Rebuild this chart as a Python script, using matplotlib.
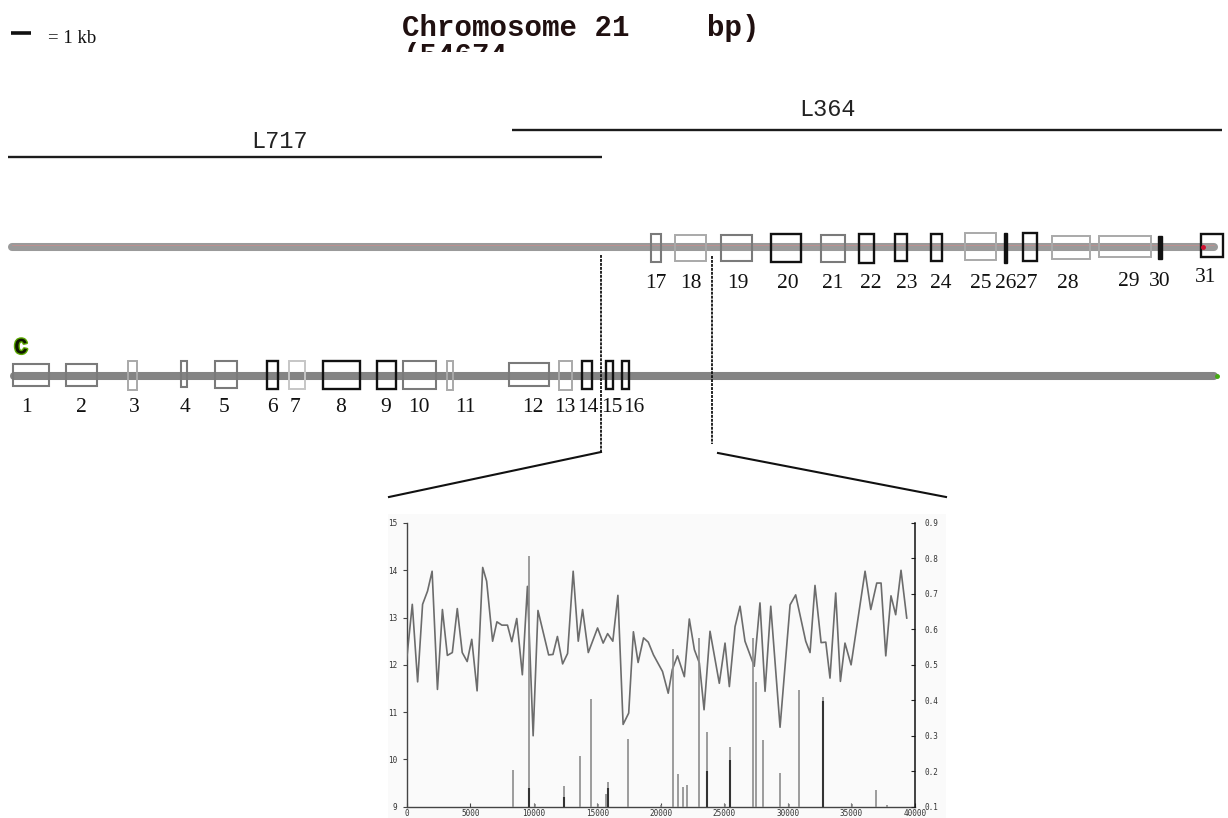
import matplotlib
matplotlib.use("Agg")
import matplotlib.pyplot as plt
from matplotlib.patches import Rectangle
import matplotlib.patheffects as pe
from matplotlib.ticker import FixedLocator, FixedFormatter

# ---------------------------------------------------------------- data
# exons along the locus, kb from the first exon's upstream end
exon_numbers = list(range(1, 32))
exon_start_kb = [0.25, 2.90, 6.00, 8.65, 10.35, 12.95, 14.05, 15.75, 18.45, 19.75,
                 21.95, 25.05, 27.55, 28.70, 29.90, 30.70,
                 32.15, 33.35, 35.65, 38.15, 40.65, 42.55, 44.35, 46.15, 47.85,
                 49.80, 50.75, 52.20, 54.55, 57.50, 59.65]
exon_end_kb = [2.05, 4.45, 6.45, 8.95, 11.45, 13.50, 14.85, 17.60, 19.40, 21.40,
               22.25, 27.05, 28.20, 29.20, 30.25, 31.05,
               32.65, 34.90, 37.20, 39.65, 41.85, 43.30, 44.95, 46.70, 49.40,
               49.95, 51.45, 54.10, 57.15, 57.70, 60.75]
locus_length_kb = 60.5

# genomic clones
clone_names = ["L717", "L364"]
clone_start_kb = [0.0, 25.2]
clone_end_kb = [29.7, 60.7]

# window expanded in the profile below
window_kb = [29.65, 35.2]

# profile (left axis)
profile_pos = [0, 440, 860, 1250, 1640, 2000, 2420, 2810, 3200, 3590, 3980, 4370,
               4760, 5120, 5540, 5980, 6290, 6760, 7100, 7490, 7930, 8270, 8660,
               9100, 9500, 9950, 10330, 11170, 11510, 11860, 12270, 12660, 13100,
               13500, 13840, 14290, 15020, 15460, 15810, 16220, 16620, 17030,
               17470, 17840, 18210, 18640, 19010, 19420, 20130, 20580, 20900,
               21310, 21850, 22240, 22640, 23030, 23400, 23870, 24600, 25050,
               25390, 25840, 26230, 26620, 27350, 27800, 28200, 28650, 29380,
               30170, 30610, 31400, 31740, 32130, 32610, 32980, 33310, 33760,
               34130, 34490, 34970, 36070, 36520, 36990, 37330, 37700, 38110,
               38480, 38900, 39350]
profile_val = [12.12, 13.28, 11.64, 13.28, 13.56, 13.98, 11.48, 13.17, 12.20, 12.26,
               13.19, 12.26, 12.07, 12.54, 11.45, 14.06, 13.77, 12.50, 12.91, 12.84,
               12.84, 12.49, 12.98, 11.79, 13.66, 10.50, 13.15, 12.21, 12.22, 12.60,
               12.02, 12.24, 13.98, 12.50, 13.17, 12.26, 12.78, 12.46, 12.66, 12.50,
               13.47, 10.74, 10.98, 12.70, 12.05, 12.57, 12.48, 12.21, 11.86, 11.40,
               11.90, 12.19, 11.75, 12.97, 12.32, 12.04, 11.05, 12.71, 11.61, 12.46,
               11.54, 12.81, 13.24, 12.50, 11.97, 13.31, 11.44, 13.24, 10.68, 13.27,
               13.48, 12.50, 12.26, 13.68, 12.47, 12.48, 11.72, 13.52, 11.65, 12.46,
               12.00, 13.98, 13.17, 13.73, 13.73, 12.19, 13.46, 13.06, 14.00, 12.99]

# site scores (right axis)
site_pos = [8390, 9626, 10073, 12380, 13640, 14480, 15030, 15685, 15842, 17440,
            20015, 20980, 21350, 21750, 22020, 23028, 23658, 25050, 25410, 27277,
            27489, 28017, 29379, 30087, 30898, 32740, 35023, 36935, 37824]
site_val = [0.203, 0.807, 0.107, 0.159, 0.243, 0.403, 0.107, 0.136, 0.171, 0.291,
            0.104, 0.544, 0.192, 0.156, 0.160, 0.576, 0.312, 0.108, 0.268, 0.577,
            0.453, 0.287, 0.196, 0.107, 0.429, 0.409, 0.107, 0.147, 0.104]
strong_pos = [9660, 12400, 15860, 23670, 25440, 32760]
strong_val = [0.153, 0.127, 0.153, 0.200, 0.233, 0.399]

x_ticks = [0, 5000, 10000, 15000, 20000, 25000, 30000, 35000, 40000]
left_ticks = [9, 10, 11, 12, 13, 14, 15]
right_ticks = [0.1, 0.2, 0.3, 0.4, 0.5, 0.6, 0.7, 0.8, 0.9]
right_tick_labels = ["0.1", "0.2", "0.3", "0.4", "0.5", "0.6", "0.7", "0.8", "0.9"]

# ---------------------------------------------------------------- styles
exon_tone = ["gray", "gray", "light", "gray", "gray", "black", "pale", "black",
             "black", "gray", "light", "gray", "light", "black", "black", "black",
             "gray", "light", "gray", "black", "gray", "black", "black", "black",
             "light", "solid", "black", "light", "light", "solid", "black"]
tone_style = {
    "black": dict(edgecolor="#111111", facecolor="none", linewidth=1.7),
    "gray": dict(edgecolor="#7a7a7a", facecolor="none", linewidth=1.5),
    "light": dict(edgecolor="#a9a9a9", facecolor="none", linewidth=1.4),
    "pale": dict(edgecolor="#c6c6c6", facecolor="none", linewidth=1.4),
    "solid": dict(edgecolor="#111111", facecolor="#111111", linewidth=1.0),
}
# vertical extent of each exon box (figure rows, top / bottom)
box_top = [364, 364, 361, 361, 361, 361, 361, 361, 361, 361, 361, 363, 361, 361, 361, 361,
           234, 235, 235, 234, 235, 234, 234, 234, 233, 233, 233, 236, 236, 236, 234]
box_bot = [386, 386, 390, 387, 388, 389, 389, 389, 389, 389, 390, 386, 390, 389, 389, 389,
           262, 261, 261, 262, 262, 263, 261, 261, 260, 263, 261, 259, 257, 259, 257]
# label centres (kb) and rows
label_kb = [0.9, 3.65, 6.3, 8.85, 10.8, 13.2, 14.35, 16.65, 18.9, 20.55, 22.85, 26.25,
            27.85, 29.0, 30.2, 31.3,
            32.4, 34.15, 36.5, 39.0, 41.25, 43.15, 44.95, 46.65, 48.65, 49.9, 50.95,
            53.0, 56.05, 57.6, 59.9]
label_row = [408] * 16 + [283] * 12 + [281, 281, 278]

W, H = 1228, 818
KB_PX, X0_PX = 20.0, 8.0
ROW_TOP, ROW_BOT = 247.0, 375.5


def kb(px):
    return (px - X0_PX) / KB_PX


fig = plt.figure(figsize=(W / 100, H / 100), dpi=100)
fig.patch.set_facecolor("white")
ax = fig.add_axes([0, 0, 1, 1])
ax.set_xlim(kb(0), kb(W))
ax.set_ylim(H, 0)
ax.axis("off")

serif = "Liberation Serif"
mono = "Liberation Mono"

# ---------------------------------------------------------------- header
ax.text(kb(402), 36, "Chromosome 21", fontfamily=mono, fontweight="bold",
        fontsize=21, color="#201010", va="baseline", ha="left")
ax.text(kb(707), 36, "bp)", fontfamily=mono, fontweight="bold",
        fontsize=21, color="#201010", va="baseline", ha="left")
ax.text(kb(402), 64, "(54674", fontfamily=mono, fontweight="bold",
        fontsize=21, color="#201010", va="baseline", ha="left", zorder=2)
ax.add_patch(Rectangle((kb(395), 52), kb(530) - kb(395), 30, facecolor="white",
                       edgecolor="none", zorder=3))

# scale bar: 1 kb
ax.plot([kb(11), kb(11) + 1.0], [33, 33], color="#111111", lw=2.6,
        solid_capstyle="butt")
ax.text(kb(48), 43, "= 1 kb", fontfamily=serif, fontsize=13.5, color="#111111",
        va="baseline", ha="left")

# ---------------------------------------------------------------- clones
clone_rows = [157, 130]
clone_label_px = [(280, 141), (828, 109)]
for name, s, e, row, (lx, ly) in zip(clone_names, clone_start_kb, clone_end_kb,
                                     clone_rows, clone_label_px):
    ax.plot([s, e], [row, row], color="#1c1c1c", lw=1.7, solid_capstyle="butt")
    ax.text(kb(lx), ly, name, fontfamily=mono, fontsize=17, color="#222222",
            ha="center", va="center")

# ---------------------------------------------------------------- tracks
ax.plot([0.2, locus_length_kb - 0.2], [ROW_TOP, ROW_TOP], color="#9a9a9a",
        lw=5.8, solid_capstyle="round", zorder=1)
ax.plot([0.2, locus_length_kb - 0.2], [ROW_TOP - 2.5, ROW_TOP - 2.5],
        color="#c98c8c", lw=0.5, zorder=1)
ax.plot([0.3, locus_length_kb - 0.2], [ROW_BOT, ROW_BOT], color="#848484",
        lw=5.8, solid_capstyle="round", zorder=1)
ax.plot([locus_length_kb - 0.05], [ROW_BOT], "o", color="#44aa11", ms=2.5, zorder=2)

for i, n in enumerate(exon_numbers):
    s, e = exon_start_kb[i], exon_end_kb[i]
    t, b = box_top[i], box_bot[i]
    ax.add_patch(Rectangle((s, t), e - s, b - t, zorder=3,
                           **tone_style[exon_tone[i]]))
    ax.text(label_kb[i], label_row[i], str(n), fontfamily=serif, fontsize=15.5,
            color="#111111", ha="center", va="center", zorder=4)

ax.plot([exon_start_kb[-1] + 0.1], [ROW_TOP], "o", color="#d01030", ms=2.5, zorder=4)

ax.text(kb(21), 348, "C", fontfamily=mono, fontweight="bold", fontsize=16,
        color="#101800", ha="center", va="center",
        path_effects=[pe.withStroke(linewidth=2, foreground="#5aa800")])

# ---------------------------------------------------------------- zoom window
ax.plot([window_kb[0], window_kb[0]], [255, 452], color="#111111", lw=1.3,
        linestyle=(0, (1.6, 0.6)))
ax.plot([window_kb[1], window_kb[1]], [256, 444], color="#111111", lw=1.3,
        linestyle=(0, (1.6, 0.6)))
ax.plot([window_kb[0], kb(389)], [452, 497], color="#111111", lw=1.5)
ax.plot([window_kb[1] + 0.3, kb(946)], [453, 497], color="#111111", lw=1.5)

# light backdrop of the profile panel
ax.add_patch(Rectangle((kb(388), 514), kb(946) - kb(388), H - 514,
                       facecolor="#fafafa", edgecolor="none", zorder=0))

# ---------------------------------------------------------------- profile panel
x0, x1, y0, y1 = 406.7, 915.0, 523.0, 806.7
ax2 = fig.add_axes([x0 / W, 1 - y1 / H, (x1 - x0) / W, (y1 - y0) / H])
ax2.patch.set_visible(False)
ax2.set_xlim(0, 40000)
ax2.set_ylim(9, 15)
ax3 = ax2.twinx()
ax3.set_ylim(0.1, 0.9)

ax2.plot(profile_pos, profile_val, color="#6c6c6c", lw=1.2, zorder=3)
ax3.vlines(site_pos, 0.1, site_val, color="#8c8c8c", lw=1.2)
ax3.vlines(strong_pos, 0.1, strong_val, color="#333333", lw=1.5)

for sp in ("top", "right"):
    ax2.spines[sp].set_visible(False)
for sp in ("top", "left", "bottom"):
    ax3.spines[sp].set_visible(False)
ax2.spines["left"].set_color("#444444")
ax2.spines["bottom"].set_color("#444444")
ax2.spines["left"].set_linewidth(1.0)
ax2.spines["bottom"].set_linewidth(1.0)
ax3.spines["right"].set_color("#111111")
ax3.spines["right"].set_linewidth(1.1)

tick_font = dict(family="DejaVu Sans Mono", size=5.5)
ax2.xaxis.set_major_locator(FixedLocator(x_ticks))
ax2.xaxis.set_major_formatter(FixedFormatter([str(v) for v in x_ticks]))
ax2.yaxis.set_major_locator(FixedLocator(left_ticks))
ax2.yaxis.set_major_formatter(FixedFormatter([str(v) for v in left_ticks]))
ax3.yaxis.set_major_locator(FixedLocator(right_ticks))
ax3.yaxis.set_major_formatter(FixedFormatter(right_tick_labels))

ax2.tick_params(axis="x", direction="in", length=3, width=0.8, color="#444444",
                pad=2, labelcolor="#333333")
ax2.tick_params(axis="y", direction="out", length=3, width=0.8, color="#444444",
                pad=4, labelcolor="#333333")
ax3.tick_params(axis="y", direction="in", length=3, width=0.8, color="#222222",
                pad=7, labelcolor="#333333")
for lab in ax2.get_xticklabels() + ax2.get_yticklabels() + ax3.get_yticklabels():
    lab.set_fontfamily(tick_font["family"])
    lab.set_fontsize(tick_font["size"])

fig.savefig("out.png", dpi=100)
